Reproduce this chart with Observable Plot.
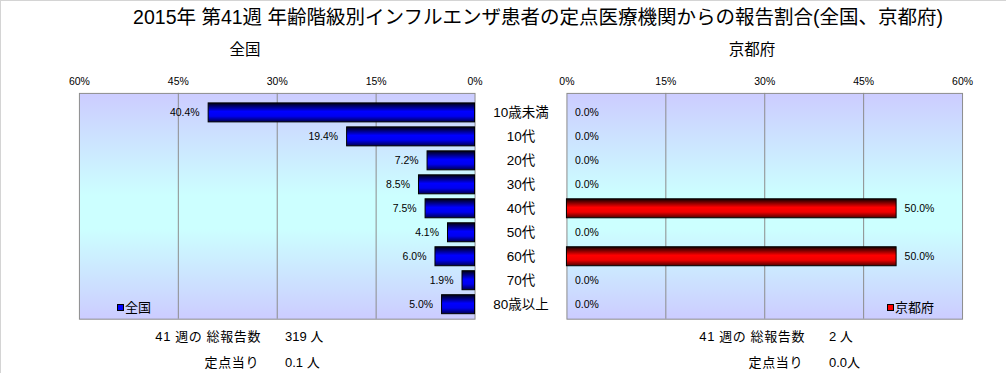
<!DOCTYPE html>
<html><head><meta charset="utf-8">
<script src="https://cdn.jsdelivr.net/npm/d3@7"></script>
<script src="https://cdn.jsdelivr.net/npm/@observablehq/plot@0.6"></script>
<style>
body{margin:0;background:#fff;}
#root{position:relative;width:1006px;height:373px;overflow:hidden;border-top:1px solid #d4d4d4;border-left:1px solid #d4d4d4;box-sizing:border-box;font-family:'Liberation Sans','Noto Sans CJK JP',sans-serif;color:#000;}
.abs{position:absolute;white-space:nowrap;line-height:1;}
#root svg.plot{position:absolute;left:-1px;top:-1px;}
</style></head>
<body>
<svg width="0" height="0" style="position:absolute">
<defs>
<linearGradient id="bg" x1="0" y1="0" x2="0" y2="1">
<stop offset="0" stop-color="#ccccff"/><stop offset="0.45" stop-color="#ccffff"/><stop offset="0.6" stop-color="#ccffff"/><stop offset="1" stop-color="#ccccff"/>
</linearGradient>
<linearGradient id="blueBar" x1="0" y1="0" x2="0" y2="1">
<stop offset="0" stop-color="#000010"/><stop offset="0.45" stop-color="#0000ff"/><stop offset="0.7" stop-color="#0000f0"/><stop offset="1" stop-color="#000050"/>
</linearGradient>
<linearGradient id="redBar" x1="0" y1="0" x2="0" y2="1">
<stop offset="0" stop-color="#100000"/><stop offset="0.45" stop-color="#ff0000"/><stop offset="0.7" stop-color="#f00000"/><stop offset="1" stop-color="#500000"/>
</linearGradient>
</defs></svg>
<div id="root"></div>
<script>
const title = "2015年 第41週 年齢階級別インフルエンザ患者の定点医療機関からの報告割合(全国、京都府)";
const panelTitles = ["全国", "京都府"];
const ages = ["10歳未満","10代","20代","30代","40代","50代","60代","70代","80歳以上"];
const national = [40.4,19.4,7.2,8.5,7.5,4.1,6.0,1.9,5.0];
const kyoto = [0.0,0.0,0.0,0.0,50.0,0.0,50.0,0.0,0.0];
const xTicks = [0,15,30,45,60];
const totalLabel = "41 週の 総報告数";
const perLabel = "定点当り";
const nationalTotal = "319 人";
const nationalPer = "0.1 人";
const kyotoTotal = "2 人";
const kyotoPer = "0.0人";

const natData = ages.map((a,i)=>({age:a, value:national[i]}));
const kyoData = ages.map((a,i)=>({age:a, value:kyoto[i]}));

const FONT = "'Liberation Sans','Noto Sans CJK JP',sans-serif";
const W = 1006, H = 330;
const yOpts = {domain: ages, range:[93,319], paddingInner:0.2, paddingOuter:0.13, align:0.65};

function panel(data, left, right, reverse, fillId, side){
  return Plot.plot({
    width: W, height: H,
    marginLeft: left, marginRight: W - right, marginTop: 93, marginBottom: H - 319,
    style: {fontFamily: FONT, fontSize: "10px", background: "transparent", overflow:"visible"},
    x: {domain:[0,60], reverse, ticks: xTicks, label: null},
    y: {...yOpts, axis: null, label: null},
    marks: [
      Plot.frame({fill: "url(#bg)", stroke: "none"}),
      Plot.ruleX(xTicks.slice(1,4), {stroke:"#8c8c8c", strokeWidth:1}),
      Plot.frame({stroke: "#8c8c8c", strokeWidth:1}),
      Plot.barX(data, {filter: d=>d.value>0, x:"value", y:"age", fill:`url(#${fillId})`, stroke:"#000", strokeWidth:1}),
      Plot.text(data, {x:"value", y:"age", text: d=>d.value.toFixed(1)+"%",
        textAnchor: side==="left" ? "end" : "start", dx: side==="left" ? -9 : 8, fontSize: 10.5, fill:"#000"}),
      Plot.axisX({anchor:"top", ticks: xTicks, tickSize:0, tickPadding:8, tickFormat: d=>d+"%", fontSize:10.5, label: null}),
      ...(side==="left" ? [Plot.axisY({anchor:"right", tickSize:0, tickPadding:46, textAnchor:"middle", fontSize:13.5, label: null})] : [])
    ]
  });
}

const root = document.getElementById("root");
const p1 = panel(natData, 79, 475, true, "blueBar", "left");
const p2 = panel(kyoData, 567, 963, false, "redBar", "right");
p1.classList.add("plot"); p2.classList.add("plot");
root.appendChild(p1); root.appendChild(p2);

function addText(txt, x, yc, size, anchor, ls){
  const d = document.createElement("div");
  d.className = "abs";
  d.textContent = txt;
  d.style.fontSize = size + "px";
  if (ls) d.style.letterSpacing = ls + "px";
  d.style.top = (yc - size/2 - 1) + "px";
  if (anchor === "middle"){ d.style.left = x + "px"; d.style.transform = "translateX(-50%)"; }
  else if (anchor === "end"){ d.style.right = (W - x) + "px"; }
  else d.style.left = x + "px";
  root.appendChild(d);
  return d;
}
addText(title, 537, 18, 19.5, "middle");
addText(panelTitles[0], 244, 50, 15.5, "middle");
addText(panelTitles[1], 751, 50, 15.5, "middle");

addText(totalLabel, 261, 336, 13, "end", 0.6);
addText(nationalTotal, 284, 336, 13, "start");
addText(perLabel, 259, 362, 13, "end", 0.6);
addText(nationalPer, 284, 362, 13, "start");
addText(totalLabel, 805, 336, 13, "end", 0.6);
addText(kyotoTotal, 828, 336, 13, "start");
addText(perLabel, 803, 362, 13, "end", 0.6);
addText(kyotoPer, 828, 362, 13, "start");

function legend(name, x, color){
  const d = addText("", x, 307, 13, "start");
  const sq = document.createElement("span");
  sq.style.cssText = `display:inline-block;width:5px;height:5px;background:${color};border:1px solid #000;margin-right:1px;vertical-align:1px;`;
  d.appendChild(sq);
  d.appendChild(document.createTextNode(name));
}
legend(panelTitles[0], 116, "#0000ff");
legend(panelTitles[1], 886, "#ff0000");
</script>
</body></html>
